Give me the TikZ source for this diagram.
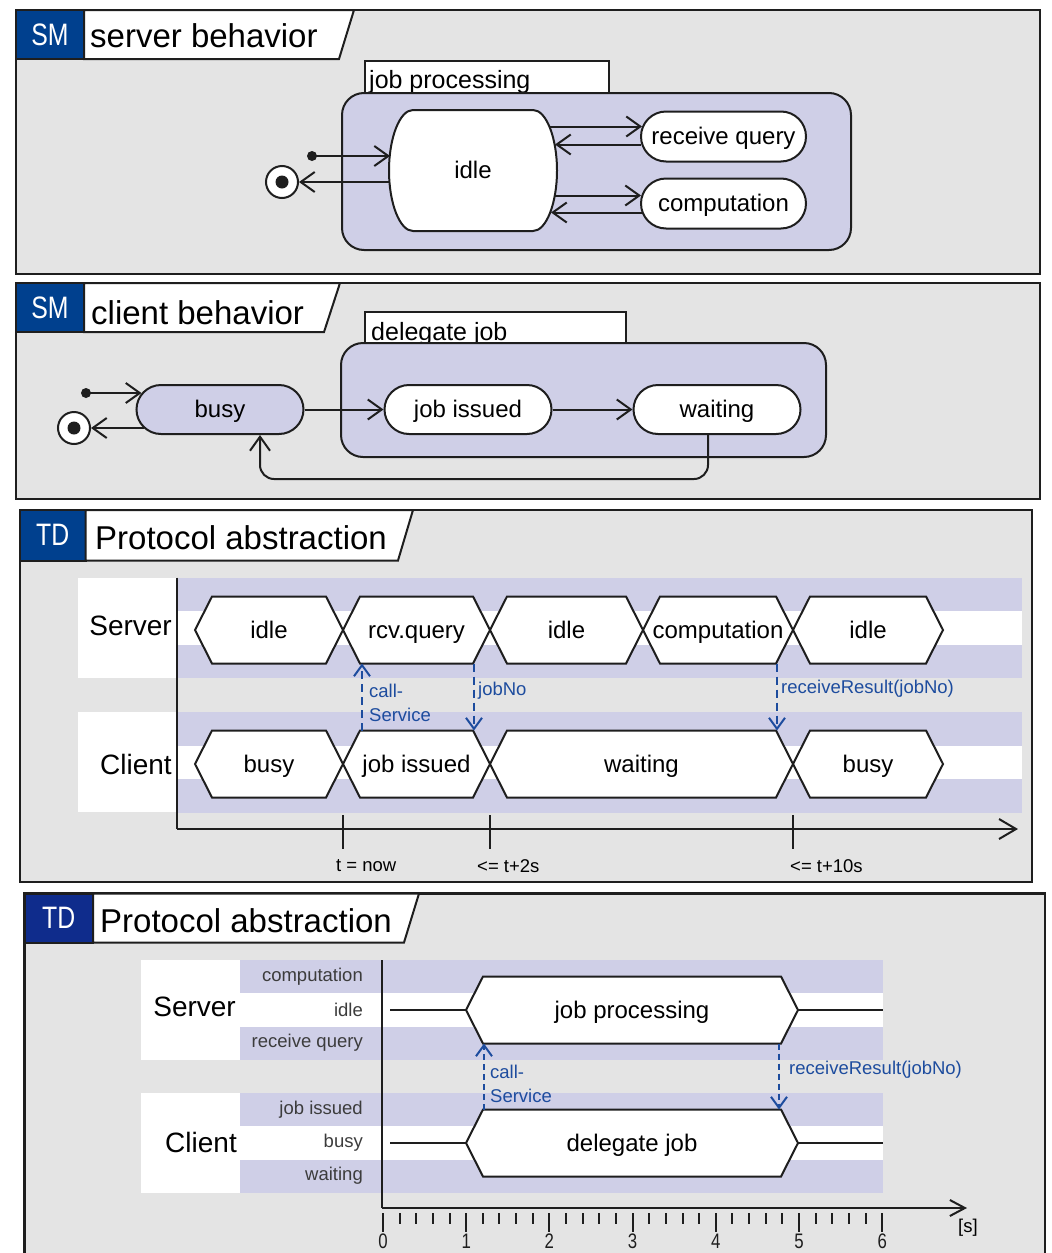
\documentclass[tikz,border=0pt]{standalone}
\usepackage{fontspec}
\setmainfont{Liberation Sans}
\newfontfamily\tagfont{Liberation Sans}[FakeStretch=0.8]
\usepackage{xcolor}
\definecolor{bg}{HTML}{E4E4E4}
\definecolor{lav}{HTML}{CFCFE7}
\definecolor{smblue}{HTML}{00408E}
\definecolor{tdblue}{HTML}{0F2C8C}
\definecolor{msgblue}{HTML}{1D4C9E}
\definecolor{ink}{HTML}{1E1E1E}
\definecolor{sublab}{HTML}{3C3C3C}
\usetikzlibrary{arrows.meta,calc}
\tikzset{
  >={Straight Barb[length=14pt,width=20pt]},
  panel/.style={draw=ink,line width=2.4pt,fill=bg},
  tagbox/.style={draw=ink,line width=2pt},
  tagtxt/.style={text=white,inner sep=0pt,font=\tagfont\fontsize{31}{31}\selectfont},
  titlebox/.style={draw=ink,line width=2pt,fill=white},
  ttl/.style={anchor=base west,inner sep=0pt,font=\fontsize{33}{38}\selectfont},
  tabbox/.style={draw=ink,line width=2pt,fill=white},
  tabtxt/.style={anchor=base west,inner sep=0pt,font=\fontsize{25}{28}\selectfont},
  compbox/.style={draw=ink,line width=2pt,fill=lav,rounded corners=22pt},
  smstate/.style={draw=ink,line width=2pt,fill=white,inner sep=0pt,minimum width=167,minimum height=49,
    rounded corners=24.5pt,font=\fontsize{24}{28}\selectfont,text height=17pt,text depth=1pt},
  smline/.style={draw=ink,line width=2pt,fill=white},
  smarr/.style={->,draw=ink,line width=2pt},
  finalst/.style={circle,draw=ink,line width=2pt,fill=white,minimum size=32,inner sep=0pt,
    path picture={\fill[ink] (path picture bounding box.center) circle (6.5pt);}},
  lane/.style={anchor=east,inner sep=0pt,font=\fontsize{28}{32}\selectfont},
  rowtxt/.style={anchor=east,inner sep=0pt,text=sublab,font=\fontsize{18.5}{22}\selectfont},
  hexline/.style={draw=ink,line width=2pt,fill=white},
  barline/.style={draw=ink,line width=2pt},
  hextxt/.style={inner sep=0pt,font=\fontsize{24}{28}\selectfont,text height=17pt,text depth=1pt},
  msg/.style={draw=msgblue,line width=2pt,dash pattern=on 8pt off 5pt,-{Straight Barb[length=11pt,width=16pt]}},
  msgtxt/.style={anchor=west,align=left,inner sep=0pt,text=msgblue,font=\fontsize{18.5}{24.5}\selectfont},
  axis/.style={draw=ink,line width=2pt},
  tick/.style={draw=ink,line width=2pt},
  ticktxt/.style={anchor=west,inner sep=0pt,font=\fontsize{18.5}{22}\selectfont},
  numtxt/.style={inner sep=0pt,text=ink,font=\tagfont\fontsize{21}{21}\selectfont},
}
% one timing state: name, left tip, right tip, mid y, text
\newcommand{\hexstate}[5]{%
  \coordinate (#1-l) at (#2,#4); \coordinate (#1-r) at (#3,#4);
  \coordinate (#1-nw) at (#2+17,#4-33.5); \coordinate (#1-ne) at (#3-17,#4-33.5);
  \coordinate (#1-sw) at (#2+17,#4+33.5); \coordinate (#1-se) at (#3-17,#4+33.5);
  \draw[hexline] (#1-l) -- (#1-nw) -- (#1-ne) -- (#1-r) -- (#1-se) -- (#1-sw) -- cycle;
  \node[hextxt] (#1) at ({(#2+#3)/2},#4) {#5};}

\begin{document}
\begin{tikzpicture}[x=1pt,y=-1pt]
\useasboundingbox (0,0) rectangle (1052,1253);
\fill[white] (0,0) rectangle (1052,1253);

% --- SM server behavior
\draw[panel] (16,10) rectangle (1040,274);
\draw[tagbox,fill=smblue] (16,10) rectangle (84,59);
\node[tagtxt] (sm1) at (50,34.5) {SM};
\draw[titlebox] (84,10) -- (354,10) -- (339,59) -- (84,59) -- cycle;
\node[ttl] (tt1) at (90,47) {server behavior};
\draw[tabbox] (365,61) rectangle (609,93);
\node[tabtxt] (jpt) at (369,88) {job processing};
\draw[compbox] (342,93) rectangle (851,250);
\node[smstate,draw=none,fill=none,minimum width=166,minimum height=119] (idle) at (473,170.5) {};
% idle has elliptic sides
\coordinate (ia) at ($(idle.north west)+(24,0)$);
\coordinate (ib) at ($(idle.north east)+(-24,0)$);
\coordinate (ic) at ($(idle.south east)+(-24,0)$);
\coordinate (id) at ($(idle.south west)+(24,0)$);
\draw[smline] (ia) -- (ib) .. controls +(13.25,0) and +(0,-32.8) .. (idle.east)
  .. controls +(0,32.8) and +(13.25,0) .. (ic) -- (id)
  .. controls +(-13.25,0) and +(0,32.8) .. (idle.west)
  .. controls +(0,-32.8) and +(-13.25,0) .. (ia) -- cycle;
\node[smstate,draw=none,fill=none] (idlet) at (idle) {idle};
\node[smstate,minimum width=165,minimum height=50,rounded corners=25pt] (rq) at (723.5,136.5) {receive query};
\node[smstate,minimum width=165,minimum height=50,rounded corners=25pt] (comp) at (723.5,203.5) {computation};
\draw[smarr] ($(idle.east |- rq.west)+(-7,-10)$) -- ($(rq.west)+(2,-10)$);
\draw[smarr] ($(rq.west)+(1,8)$) -- ($(idle.east |- rq.west)+(-2,8)$);
\draw[smarr] ($(idle.east |- comp.west)+(-2,-8)$) -- ($(comp.west)+(1,-8)$);
\draw[smarr] ($(comp.west)+(2,9)$) -- ($(idle.east |- comp.west)+(-6,9)$);
\coordinate (i1) at (312,156);
\fill[ink] (i1) circle (5pt);
\draw[smarr] (i1) -- ($(idle.west |- i1)+(1,0)$);
\node[finalst] (f1) at (282,182) {};
\draw[smarr] ($(idle.west |- f1)+(1,0)$) -- (f1);

% --- SM client behavior
\draw[panel] (16,283) rectangle (1040,499);
\draw[tagbox,fill=smblue] (16,283) rectangle (84,332);
\node[tagtxt] (sm2) at (50,307.5) {SM};
\draw[titlebox] (84,283) -- (340,283) -- (324,332) -- (84,332) -- cycle;
\node[ttl] (tt2) at (91,324) {client behavior};
\draw[tabbox] (365,312) rectangle (626,343);
\node[tabtxt] (djt) at (371,340) {delegate job};
\draw[compbox] (341,343) rectangle (826,457);
\node[smstate,fill=lav] (busy) at (220,409.5) {busy};
\node[smstate] (ji) at (468,409.5) {job issued};
\node[smstate] (wt) at (717,409.5) {waiting};
\coordinate (i2) at (86,393);
\fill[ink] (i2) circle (5pt);
\draw[smarr] (i2) -- ($(busy.west |- i2)+(6,0)$);
\node[finalst] (f2) at (74,428) {};
\draw[smarr] ($(busy.west |- f2)+(8,0)$) -- (f2);
\draw[smarr] (busy) -- (ji);
\draw[smarr] (ji) -- (wt);
\draw[smarr,rounded corners=14pt] ([xshift=-9pt]wt.south) -- ++(0,44) -| ([xshift=40pt]busy.south);

% --- TD protocol abstraction (states)
\draw[panel] (20,510) rectangle (1032,882);
\draw[tagbox,fill=smblue] (20,510) rectangle (85.5,560.5);
\node[tagtxt] (td1) at (52.75,535.25) {TD};
\draw[titlebox] (85.5,510) -- (413,510) -- (398,560.5) -- (85.5,560.5) -- cycle;
\node[ttl] (tt3) at (95,549) {Protocol abstraction};
\fill[white] (78,577.5) rectangle (176,678);
\fill[white] (78,712) rectangle (176,812);
\foreach \y in {577.5,712} {
  \fill[lav] (176,\y) rectangle (1022,\y+33.5);
  \fill[white] (176,\y+33.5) rectangle (1022,\y+67);
  \fill[lav] (176,\y+67) rectangle (1022,\y+100.5);
}
\node[lane] (srv3) at (172,626) {Server};
\node[lane] (cli3) at (172,764) {Client};
\hexstate{sv1}{195}{343}{630}{idle}
\hexstate{sv2}{343}{490}{630}{rcv.query}
\hexstate{sv3}{490}{643}{630}{idle}
\hexstate{sv4}{643}{793}{630}{computation}
\hexstate{sv5}{793}{943}{630}{idle}
\hexstate{cl1}{195}{343}{764}{busy}
\hexstate{cl2}{343}{490}{764}{job issued}
\hexstate{cl3}{490}{793}{764}{waiting}
\hexstate{cl4}{793}{943}{764}{busy}
\draw[msg] ($(cl2-nw)+(2,0)$) -- ($(sv2-sw)+(2,0)$);
\node[msgtxt] (lcs3) at (369,703) {call-\\Service};
\draw[msg] ($(sv2-se)+(1,0)$) -- ($(cl2-ne)+(1,0)$);
\node[msgtxt] (ljn3) at (478,691) {jobNo};
\draw[msg] ($(sv4-se)+(1,0)$) -- ($(cl3-ne)+(1,0)$);
\node[msgtxt] (lrr3) at (781,689) {receiveResult(jobNo)};
\coordinate (o3) at (176.5,829);
\draw[axis] (176.5,577.5) -- (o3);
\draw[axis,->,>={Straight Barb[length=17pt,width=20pt]}] (o3) -- (1018,829);
\foreach \x/\lab/\dx in {343/{t = now}/-7,490/{<= t+2s}/-13,793/{<= t+10s}/-3} {
  \draw[tick] (\x,815) -- (\x,849);
  \node[ticktxt] at (\x+\dx,866) {\lab};
}

% --- TD protocol abstraction (composite states)
\draw[panel] (24.5,893.5) rectangle (1045,1275);
\draw[tagbox,fill=tdblue] (24.5,893.5) rectangle (93,942.5);
\node[tagtxt] (td2) at (58.75,918) {TD};
\draw[titlebox] (93,893.5) -- (419,893.5) -- (404,942.5) -- (93,942.5) -- cycle;
\node[ttl] (tt4) at (100,932) {Protocol abstraction};
\fill[white] (141,960) rectangle (240,1060);
\fill[white] (141,1093) rectangle (240,1193);
\foreach \y in {960,1093} {
  \fill[lav] (240,\y) rectangle (883,\y+33.3);
  \fill[white] (240,\y+33.3) rectangle (883,\y+66.7);
  \fill[lav] (240,\y+66.7) rectangle (883,\y+100);
}
\node[lane] (srv4) at (236,1007) {Server};
\node[lane] (cli4) at (237,1142) {Client};
\foreach \y/\t in {976.5/computation,1010/idle,1043/receive query,1109.5/job issued,1143/busy,1176/waiting}
  \node[rowtxt] at (363,\y) {\t};
\hexstate{jp}{466}{798}{1010}{job processing}
\hexstate{dj}{466}{798}{1143}{delegate job}
\coordinate (sl) at (390,1010); \coordinate (sr) at (883,1010);
\coordinate (cl) at (390,1143); \coordinate (cr) at (883,1143);
\draw[barline] (sl) -- (jp-l); \draw[barline] (jp-r) -- (sr);
\draw[barline] (cl) -- (dj-l); \draw[barline] (dj-r) -- (cr);
\draw[msg,dash pattern=on 6pt off 4pt] ($(dj-nw)+(1,0)$) -- ($(jp-sw)+(1,0)$);
\node[msgtxt] (lcs4) at (490,1084) {call-\\Service};
\draw[msg,dash pattern=on 6pt off 4pt] ($(jp-se)+(-2,0)$) -- ($(dj-ne)+(-2,0)$);
\node[msgtxt] (lrr4) at (789,1070) {receiveResult(jobNo)};
\coordinate (o4) at (382,1208);
\draw[axis] (382,960) -- (o4);
\draw[axis,->,>={Straight Barb[length=15pt,width=16pt]}] (o4) -- (967,1208);
\node[ticktxt] (unit) at (958,1228) {[s]};
\foreach \i in {0,...,6} {
  \draw[tick] (383+83.2*\i,1213) -- ++(0,19);
  \node[numtxt] at (383+83.2*\i,1241.5) {\i};
}
\foreach \i in {0,...,5}
  \foreach \k in {1,...,4}
    \draw[tick] (383+83.2*\i+16.64*\k,1213) -- ++(0,11);
\end{tikzpicture}
\end{document}
